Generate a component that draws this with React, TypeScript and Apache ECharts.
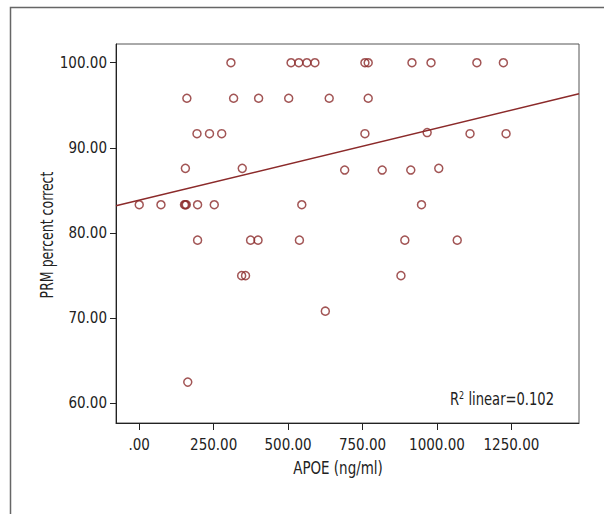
import React, { useEffect, useRef } from "react";
import * as echarts from "echarts";

const xTicks = [0, 250, 500, 750, 1000, 1250];
const yTicks = [60, 70, 80, 90, 100];

const apoe = [
  308, 510, 536, 563, 590, 758, 769, 916, 980, 1134, 1223,
  160, 317, 401, 502, 638, 769,
  194, 236, 277, 758, 967, 1111, 1232,
  155, 346, 690, 816, 912, 1006,
  0, 73, 152, 155, 158, 196, 252, 546, 948,
  196, 374, 399, 538, 892, 1068,
  344, 357, 879,
  625,
  163,
];
const prm = [
  100, 100, 100, 100, 100, 100, 100, 100, 100, 100, 100,
  95.83, 95.83, 95.83, 95.83, 95.83, 95.83,
  91.67, 91.67, 91.67, 91.67, 91.8, 91.67, 91.67,
  87.6, 87.6, 87.4, 87.4, 87.4, 87.6,
  83.33, 83.33, 83.33, 83.33, 83.33, 83.33, 83.33, 83.33, 83.33,
  79.17, 79.17, 79.17, 79.17, 79.17, 79.17,
  75, 75, 75,
  70.83,
  62.5,
];
const fitX = [-78, 1477];
const fitY = [83.2, 96.36];
const rSquared = "0.102";

const FONT = "'DejaVu Sans Condensed', 'Liberation Sans Narrow', 'Roboto', sans-serif";
const RED = "#8B2A2A";
const INK = "#222";

export default function App() {
  const ref = useRef<HTMLDivElement>(null);
  useEffect(() => {
    if (!ref.current) return;
    const chart = echarts.init(ref.current, null, { renderer: "svg" });
    const fmt = (v: number) => (v === 0 ? ".00" : v.toFixed(2));
    chart.setOption({
      animation: false,
      backgroundColor: "#fff",
      grid: {
        left: 116,
        top: 44,
        width: 463,
        height: 379,
        show: true,
        borderColor: "#555",
        borderWidth: 1,
        backgroundColor: "#fff",
      },
      xAxis: {
        type: "value",
        min: -78,
        max: 1477,
        axisLine: { show: true, onZero: false, lineStyle: { color: INK, width: 1 } },
        axisTick: {
          show: true,
          length: 7,
          customValues: xTicks,
          lineStyle: { color: INK },
        },
        axisLabel: {
          customValues: xTicks,
          formatter: fmt,
          fontFamily: FONT,
          fontSize: 15,
          color: INK,
          margin: 14,
        },
        splitLine: { show: false },
      },
      yAxis: {
        type: "value",
        min: 57.7,
        max: 102.2,
        axisLine: { show: true, onZero: false, lineStyle: { color: INK, width: 1 } },
        axisTick: {
          show: true,
          length: 6,
          customValues: yTicks,
          lineStyle: { color: INK },
        },
        axisLabel: {
          customValues: yTicks,
          formatter: (v: number) => v.toFixed(2),
          fontFamily: FONT,
          fontSize: 15,
          color: INK,
          margin: 9,
        },
        splitLine: { show: false },
      },
      series: [
        {
          type: "line",
          data: fitX.map((x, i) => [x, fitY[i]]),
          symbol: "none",
          lineStyle: { color: RED, width: 1.5 },
          z: 2,
        },
        {
          type: "scatter",
          data: apoe.map((x, i) => [x, prm[i]]),
          symbol: "circle",
          symbolSize: 8,
          itemStyle: { color: "rgba(0,0,0,0)", borderColor: RED, borderWidth: 1.5 },
          z: 3,
        },
      ],
      graphic: [
        {
          type: "rect",
          shape: { x: 10.5, y: 7.5, width: 700, height: 700 },
          style: { fill: "none", stroke: "#666", lineWidth: 1.5 },
          silent: true,
          z: -10,
        },
        {
          type: "text",
          x: 338,
          y: 468,
          scaleX: 0.83,
          style: {
            text: "APOE (ng/ml)",
            fontFamily: FONT,
            fontSize: 18,
            fill: INK,
            align: "center",
            verticalAlign: "middle",
          },
        },
        {
          type: "text",
          x: 48,
          y: 235,
          rotation: Math.PI / 2,
          scaleX: 0.82,
          style: {
            text: "PRM percent correct",
            fontFamily: FONT,
            fontSize: 17,
            fill: INK,
            align: "center",
            verticalAlign: "middle",
          },
        },
        {
          type: "text",
          x: 554,
          y: 399,
          scaleX: 0.81,
          style: {
            text: "R{sup|2} linear=" + rSquared,
            fontFamily: FONT,
            fontSize: 18,
            fill: INK,
            align: "right",
            verticalAlign: "middle",
            rich: {
              sup: { fontFamily: FONT, fontSize: 11, fill: INK, verticalAlign: "top", padding: [0, 0, 8, 0] },
            },
          },
        },
      ],
    });
    return () => chart.dispose();
  }, []);
  return (
    <div
      ref={ref}
      style={{ position: "absolute", left: 0, top: 0, width: 604, height: 514 }}
    />
  );
}
